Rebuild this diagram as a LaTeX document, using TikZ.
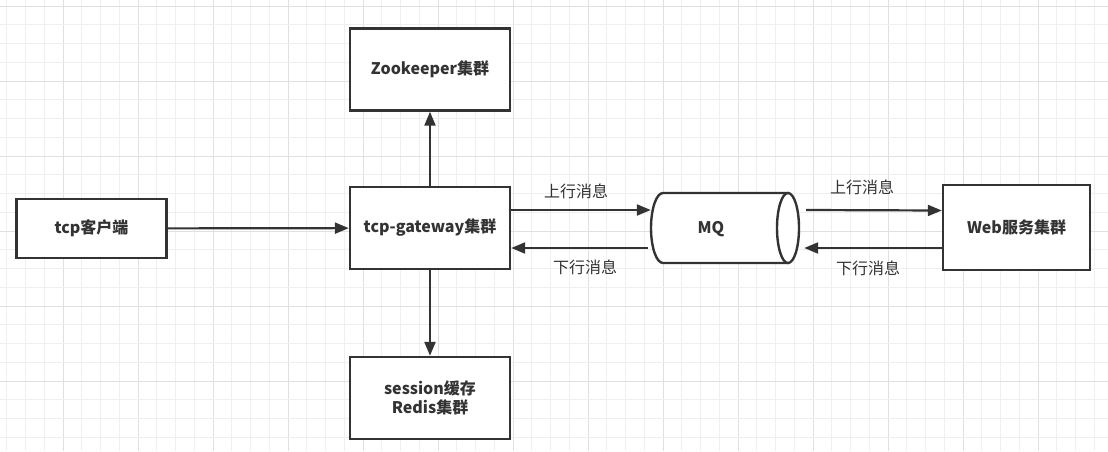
\documentclass[tikz,border=0pt]{standalone}
\usepackage{fontspec}
\setmainfont{Noto Sans CJK SC}
\usetikzlibrary{arrows.meta}
\definecolor{ink}{HTML}{333333}
\definecolor{gridminor}{HTML}{EFEFEF}
\definecolor{gridmajor}{HTML}{E0E0E0}
\tikzset{
  box/.style={draw=ink, line width=2.4pt, fill=white, text=ink, font=\fontsize{16}{19}\selectfont\bfseries, align=center, inner sep=0pt},
  arr/.style={draw=ink, line width=2.2pt, -{Triangle[length=14pt,width=11pt]}},
  lbl/.style={text=ink, font=\fontsize{16}{19}\selectfont, inner sep=0pt},
}
\begin{document}
\begin{tikzpicture}[x=1pt,y=-1pt]
\useasboundingbox (0,0) rectangle (1108,451);
\fill[white] (0,0) rectangle (1108,451);
% grid
\foreach \i in {0,...,58} {
  \pgfmathsetmacro{\gx}{6.75+18.75*\i}
  \pgfmathtruncatemacro{\m}{mod(\i,4)}
  \ifnum\m=3 \draw[gridmajor, line width=1pt] (\gx,0) -- (\gx,451);
  \else \draw[gridminor, line width=1pt] (\gx,0) -- (\gx,451); \fi
}
\foreach \i in {0,...,23} {
  \pgfmathsetmacro{\gy}{6+18.75*\i}
  \pgfmathtruncatemacro{\m}{mod(\i,4)}
  \ifnum\m=0 \draw[gridmajor, line width=1pt] (0,\gy) -- (1108,\gy);
  \else \draw[gridminor, line width=1pt] (0,\gy) -- (1108,\gy); \fi
}
% boxes
\node[box, minimum width=160pt, minimum height=82pt] (zk) at (430,69.5) {Zookeeper集群};
\node[box, minimum width=160pt, minimum height=82pt] (gw) at (430,228) {tcp-gateway集群};
\node[box, minimum width=160pt, minimum height=82pt] (sess) at (430,398) {session缓存\\Redis集群};
\node[box, minimum width=150pt, minimum height=59pt] (cli) at (91.5,228.5) {tcp客户端};
\node[box, minimum width=147pt, minimum height=85pt] (web) at (1016.5,227.5) {Web服务集群};
% MQ cylinder
\fill[white] (788,193) -- (663,193) arc[start angle=90, end angle=270, x radius=12pt, y radius=35pt] -- (788,263) -- cycle;
\draw[ink, line width=2.4pt] (788,193) -- (663,193) arc[start angle=90, end angle=270, x radius=12pt, y radius=35pt] -- (788,263);
\draw[ink, line width=2.4pt, fill=white] (788,228) ellipse[x radius=11pt, y radius=35pt];
\node[minimum width=148pt, minimum height=70pt, inner sep=0pt] (mq) at (725,228) {};
\node[text=ink, font=\fontsize{16}{19}\selectfont\bfseries, inner sep=0pt] (mqt) at (711,229) {MQ};
% connectors
\draw[arr] (cli) -- (gw);
\draw[arr] (gw) -- (zk);
\draw[arr] (gw) -- (sess);
\draw[arr] ([yshift=18pt]gw.east) -- ([yshift=18pt]mq.west);
\draw[arr] ([xshift=-3pt,yshift=-20pt]mq.west) -- ([yshift=-20pt]gw.east);
\draw[arr] ([xshift=7pt,yshift=18pt]mq.east) -- ([yshift=17pt]web.west);
\draw[arr] ([yshift=-20.5pt]web.west) -- ([xshift=5pt,yshift=-20pt]mq.east);
% labels
\node[lbl] (lu) at (576,191) {上行消息};
\node[lbl] (ld) at (585,267) {下行消息};
\node[lbl] (ru) at (862,187) {上行消息};
\node[lbl] (rd) at (868,268) {下行消息};
\end{tikzpicture}
\end{document}
